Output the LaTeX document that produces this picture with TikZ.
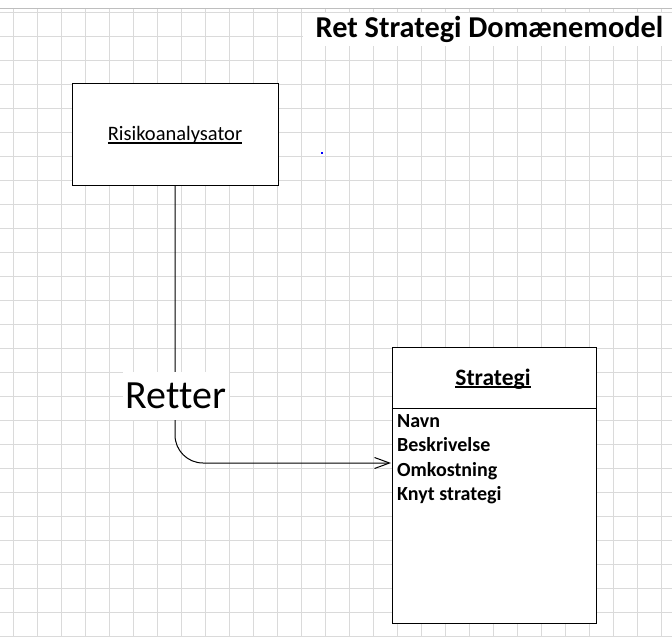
\documentclass[tikz,border=0pt]{standalone}
\usepackage{fontspec}
\setmainfont[Ligatures=NoCommon]{Carlito}
\usetikzlibrary{arrows.meta}
\definecolor{gridc}{RGB}{218,218,218}
\definecolor{topc}{RGB}{190,190,190}
\newcommand{\myul}[3]{\setbox0\hbox{#1}\rlap{\rule[#2]{\wd0}{#3}}\box0}
\tikzset{
  gridline/.style={draw=gridc, line width=1pt},
  classbox/.style={draw=black, fill=white, line width=1pt, inner sep=0pt},
  conn/.style={draw=black, line width=1pt},
  txt/.style={inner sep=0pt, anchor=base},
  attr/.style={inner sep=0pt, anchor=base west, font=\fontsize{20}{24}\selectfont\bfseries},
}
\begin{document}
\begin{tikzpicture}[x=1pt,y=-1pt]
\useasboundingbox (0,0) rectangle (672,637);
\fill[white] (0,0) rectangle (672,637);
% grid
\foreach \k in {0,...,27} \draw[gridline] (13+24*\k,8) -- (13+24*\k,637);
\foreach \k in {0,...,26} \draw[gridline] (0,12+24*\k) -- (672,12+24*\k);
\draw[draw=topc, line width=1pt] (0,8) -- (672,8);
% title
\fill[white] (303,13) rectangle (672,46);
\node[txt, font=\fontsize{30.3}{36}\selectfont\bfseries] (title) at (489.5,37) {Ret Strategi Domænemodel};
% blue dot
\fill[blue] (321,152) rectangle (323,154);
% boxes
\node[classbox, minimum width=206pt, minimum height=102pt] (risk) at (175,134) {};
\node[txt, font=\fontsize{20.5}{24}\selectfont] (risklbl) at (175,140) {\myul{Risikoanalysator}{-3.5pt}{1.1pt}};
\node[classbox, minimum width=204pt, minimum height=276pt] (strat) at (494,485) {};
\draw[line width=1pt] (strat.west |- 0,408.5) -- (strat.east |- 0,408.5);
\node[txt, font=\fontsize{23.5}{28}\selectfont\bfseries] (stratlbl) at (493,385) {\myul{Strategi}{-3pt}{1.6pt}};
\node[attr] (a1) at (397,427) {Navn};
\node[attr] (a2) at (397,451.5) {Beskrivelse};
\node[attr] (a3) at (397,476) {Omkostning};
\node[attr] (a4) at (397,500.5) {Knyt strategi};
% connector
\coordinate (tgt) at (391,463);
\draw[conn, rounded corners=28pt, -{Straight Barb[length=15pt,width=11pt,line width=1pt]}] (risk.south) |- (tgt);
\node[fill=white, inner xsep=3pt, inner ysep=0pt, minimum height=48pt, font=\fontsize{40}{48}\selectfont] (retter) at (176,396) {Retter};
\end{tikzpicture}
\end{document}
